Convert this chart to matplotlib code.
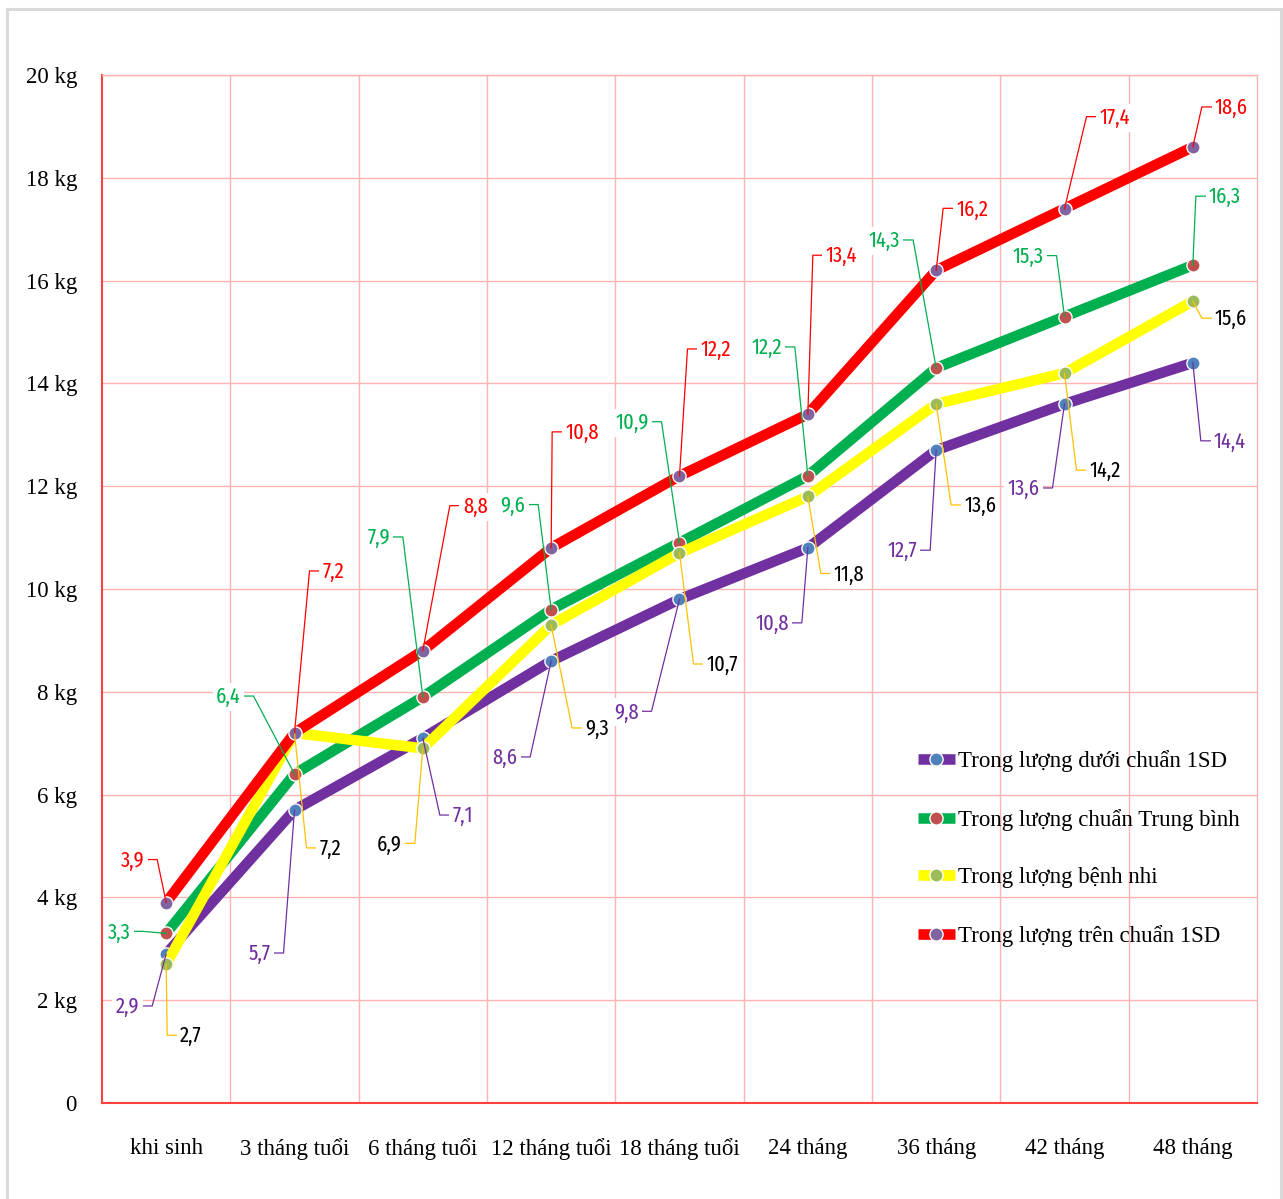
import matplotlib
matplotlib.use("Agg")
import matplotlib.pyplot as plt
import matplotlib.transforms as mtrans
from matplotlib.lines import Line2D
from matplotlib.patches import Rectangle

# ---------------- data ----------------
categories = ["khi sinh", "3 tháng tuổi", "6 tháng tuổi", "12 tháng tuổi",
              "18 tháng tuổi", "24 tháng", "36 tháng", "42 tháng", "48 tháng"]
duoi_chuan = [2.9, 5.7, 7.1, 8.6, 9.8, 10.8, 12.7, 13.6, 14.4]
chuan_tb = [3.3, 6.4, 7.9, 9.6, 10.9, 12.2, 14.3, 15.3, 16.3]
benh_nhi = [2.7, 7.2, 6.9, 9.3, 10.7, 11.8, 13.6, 14.2, 15.6]
tren_chuan = [3.9, 7.2, 8.8, 10.8, 12.2, 13.4, 16.2, 17.4, 18.6]
series_names = ["Trong lượng dưới chuẩn 1SD", "Trong lượng chuẩn Trung bình",
                "Trong lượng bệnh nhi", "Trong lượng trên chuẩn 1SD"]
y_ticks = [0, 2, 4, 6, 8, 10, 12, 14, 16, 18, 20]
y_tick_labels = ["0", "2 kg", "4 kg", "6 kg", "8 kg", "10 kg",
                 "12 kg", "14 kg", "16 kg", "18 kg", "20 kg"]

# ---------------- styles ----------------
line_colors = ["#7030a0", "#00b050", "#ffff00", "#ff0000"]
marker_colors = ["#4f81bd", "#c0504d", "#9bbb59", "#8064a2"]
label_colors = ["#7030a0", "#00b050", "#000000", "#ff0000"]
leader_colors = ["#7030a0", "#00b050", "#ffc000", "#ff0000"]
# label leader elbow offsets (pixels, y up) and the side the text sits on
label_offsets = [
    [(-14, -52), (-11, -143), (17, -77), (-21, -96), (-28, -112), (-6, -75), (-6, -100), (-12, -84), (8, -78)],
    [(-23, 2), (-41, 78), (-20, 160), (-13, 105), (-18, 121), (-13, 129), (-23, 128), (-8, 61), (3, 69)],
    [(1, -71), (12, -115), (-8, -95), (21, -103), (14, -111), (13, -77), (15, -101), (12, -97), (9, -17)],
    [(-9, 43), (15, 162), (27, 145), (1, 116), (8, 127), (5, 159), (7, 62), (22, 92), (9, 40)],
]
label_sides = [
    ["L", "L", "R", "L", "L", "L", "L", "L", "R"],
    ["L", "L", "L", "L", "L", "L", "L", "L", "R"],
    ["R", "R", "L", "R", "R", "R", "R", "R", "R"],
    ["L", "R", "R", "R", "R", "R", "R", "R", "R"],
]

SERIF = ["Liberation Serif", "DejaVu Serif"]
LABEL_FONT = ["Fira Sans Extra Condensed", "DejaVu Sans"]
grid_color = "#ffb3b3"
axis_red = "#ff4040"
LW = 7.6

fig = plt.figure(figsize=(12.83, 11.99), dpi=100)
ax = fig.add_axes([102 / 1283, 1 - 1103 / 1199, 1155 / 1283, 1028 / 1199])

# outer chart border
fig.patches.append(Rectangle((7 / 1283, -0.05), (1281 - 7) / 1283, 1.05 - 9 / 1199,
                             transform=fig.transFigure, fill=False,
                             edgecolor="#d9d9d9", linewidth=2.2, zorder=0))

all_series = [duoi_chuan, chuan_tb, benh_nhi, tren_chuan]
x = list(range(len(categories)))

for i, vals in enumerate(all_series):
    ax.plot(x, vals, color=line_colors[i], lw=LW, solid_joinstyle="round",
            solid_capstyle="butt", marker="o", ms=9.5, mfc=marker_colors[i],
            mec="white", mew=1.0, zorder=3 + i, label=series_names[i])

ax.set_xlim(-0.5, len(categories) - 0.5)
ax.set_ylim(0, 20)

# data labels with leader lines
scale = fig.dpi / 100.0
stub = 10
gap = 3
for i, vals in enumerate(all_series):
    for j, v in enumerate(vals):
        dx, dy = label_offsets[i][j]
        side = label_sides[i][j]
        tr = mtrans.Affine2D().scale(scale, scale) + mtrans.ScaledTranslation(j, v, ax.transData)
        if side == "R":
            sx = dx + stub
            tx = sx + gap
            ha = "left"
        else:
            sx = dx - stub
            tx = sx - gap
            ha = "right"
        ln = Line2D([0, dx, sx], [0, dy, dy], transform=tr, color=leader_colors[i],
                    lw=0.9, clip_on=False, zorder=8)
        ax.add_line(ln)
        ax.text(tx, dy - 1, f"{v:.1f}".replace(".", ","), transform=tr, ha=ha, va="center",
                fontsize=16, family=LABEL_FONT, color=label_colors[i], zorder=9,
                bbox=dict(boxstyle="square,pad=0.15", fc="white", ec="none"))

# axes styling
ax.set_yticks(y_ticks)
ax.set_yticklabels(y_tick_labels, family=SERIF, fontsize=16.5)
ax.set_xticks(x)
ax.set_xticklabels(categories, family=SERIF, fontsize=16.5)
ax.set_xticks([k + 0.5 for k in x[:-1]], minor=True)
ax.tick_params(axis="both", which="both", length=0)
ax.tick_params(axis="y", pad=18)
ax.tick_params(axis="x", pad=25)
ax.grid(True, axis="y", which="major", color=grid_color, lw=1.0, zorder=0)
ax.grid(True, axis="x", which="minor", color=grid_color, lw=1.0, zorder=0)
ax.set_axisbelow(True)
for s in ["top", "right"]:
    ax.spines[s].set_color(grid_color)
    ax.spines[s].set_linewidth(1.0)
for s in ["left", "bottom"]:
    ax.spines[s].set_color(axis_red)
    ax.spines[s].set_linewidth(1.5)

handles = [Line2D([], [], color=line_colors[i], lw=LW, solid_capstyle="butt", marker="o",
                  ms=9.5, mfc=marker_colors[i], mec="white", mew=1.0) for i in range(4)]
leg = ax.legend(handles, series_names, loc="upper left",
                bbox_to_anchor=((918 - 102) / 1155, (1103 - 750) / 1028),
                frameon=False, prop={"family": SERIF, "size": 16.5},
                handlelength=1.6, handletextpad=0.15, labelspacing=1.6,
                borderaxespad=0, borderpad=0)
leg.set_zorder(10)

fig.savefig("out.png", dpi=100)
